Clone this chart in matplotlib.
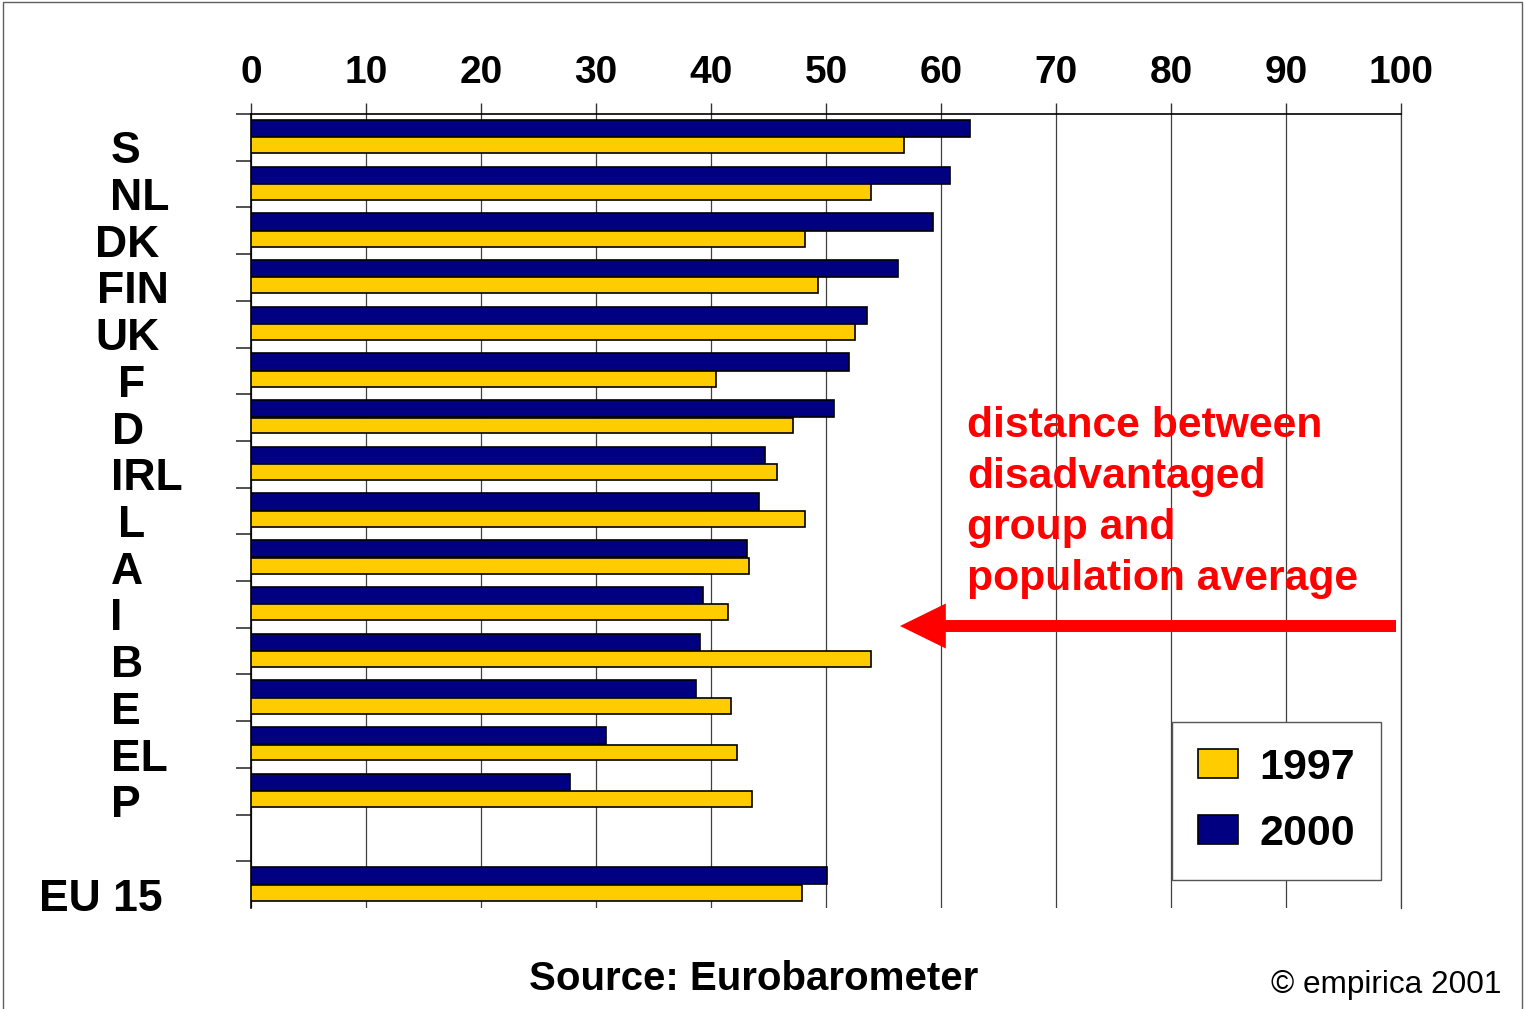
import numpy as np
import matplotlib
matplotlib.use("Agg")
import matplotlib.pyplot as plt
from matplotlib.patches import Rectangle
import matplotlib.transforms as mtransforms

plt.rcParams['font.family'] = ['Liberation Sans', 'DejaVu Sans']

# share of the disadvantaged group vs. population average, per country
countries = ["S", "NL", "DK", "FIN", "UK", "F", "D", "IRL", "L", "A",
             "I", "B", "E", "EL", "P", "EU 15"]
val_2000 = [62.5, 60.8, 59.3, 56.3, 53.6, 52.0, 50.7, 44.7, 44.2, 43.1,
            39.3, 39.0, 38.7, 30.9, 27.7, 50.1]
val_1997 = [56.8, 53.9, 48.2, 49.3, 52.5, 40.4, 47.1, 45.7, 48.2, 43.3,
            41.5, 53.9, 41.7, 42.3, 43.6, 47.9]
x_ticks = list(range(0, 101, 10))
series_names = ["1997", "2000"]

note_lines = ["distance between", "disadvantaged", "group and",
              "population average"]
source_text = "Source: Eurobarometer"
copyright_text = "\u00a9 empirica 2001"

NAVY = "#000080"
YELLOW = "#FFCC00"
RED = "#FF0000"

W, H = 1524, 1009
fig = plt.figure(figsize=(W / 100, H / 100), dpi=100)

# axes box in pixel terms (0..100 spans the bar area)
left, right, top, bottom = 251, 1401, 114, 908
ax = fig.add_axes([left / W, 1 - bottom / H, (right - left) / W, (bottom - top) / H])

# one empty slot before the EU average
pos = np.arange(len(countries), dtype=float)
pos[-1] += 1

b00 = ax.barh(pos - 0.19, val_2000, height=0.37, color=NAVY,
              edgecolor="black", linewidth=1.2, zorder=3)
b97 = ax.barh(pos + 0.17, val_1997, height=0.34, color=YELLOW,
              edgecolor="black", linewidth=1.2, zorder=3)

ax.set_xlim(0, 100)
ax.set_ylim(16.5, -0.5)

ax.xaxis.tick_top()
ax.set_xticks(x_ticks)
ax.set_xticklabels([str(t) for t in x_ticks], fontsize=28, fontweight="bold")
ax.tick_params(axis="x", direction="out", length=8, width=1, color="#333333", pad=8.5)

ax.set_yticks(np.arange(-0.5, 16, 1))
ax.set_yticklabels([])
ax.tick_params(axis="y", direction="out", length=11, width=1.2, color="#333333")

ax.grid(axis="x", color="#404040", linewidth=0.9, zorder=0)
ax.set_axisbelow(True)

ax.spines["bottom"].set_visible(False)
ax.spines["top"].set_linewidth(1.2)
ax.spines["left"].set_linewidth(1.2)
ax.spines["right"].set_color("#404040")
ax.spines["right"].set_linewidth(0.9)

# country labels sit a bit below their bar pair, with uneven indents
label_x = {"S": 111, "NL": 110, "DK": 95, "FIN": 97, "UK": 95, "F": 118,
           "D": 112, "IRL": 111, "L": 118, "A": 111, "I": 110, "B": 111,
           "E": 111, "EL": 111, "P": 111}
below = mtransforms.ScaledTranslation(0, -0.26, fig.dpi_scale_trans)
for name, y in zip(countries, pos):
    if name == "EU 15":
        x, ha = 163 / W, "right"
    else:
        x, ha = label_x[name] / W, "left"
    trans = mtransforms.blended_transform_factory(fig.transFigure, ax.transData) + below
    fig.text(x, y, name, transform=trans, ha=ha, va="baseline",
             fontsize=32, fontweight="bold")

# legend
leg = ax.legend([b97, b00], series_names, loc="upper left",
                bbox_to_anchor=(1172 / W, 1 - 722 / H),
                bbox_transform=fig.transFigure, borderaxespad=0,
                prop={"size": 31, "weight": "bold"}, frameon=True,
                fancybox=False, framealpha=1, edgecolor="#555555",
                handlelength=0.93, handleheight=0.65, handletextpad=0.5,
                labelspacing=0.6, borderpad=0.6)
leg.get_frame().set_linewidth(1)

# red note with arrow pointing at the bars
for i, line in enumerate(note_lines):
    fig.text(967 / W, 1 - (437 + 51 * i) / H, line, color=RED,
             fontsize=30.7, fontweight="bold", ha="left", va="baseline")

ax.annotate("", xy=(900, H - 626), xycoords="figure pixels",
            xytext=(1396, H - 626), textcoords="figure pixels",
            arrowprops=dict(arrowstyle="simple,head_length=3.3,head_width=3.24,tail_width=0.86",
                            mutation_scale=10, facecolor=RED, edgecolor="none",
                            shrinkA=0, shrinkB=0))

fig.text(754 / W, 1 - 990 / H, source_text, fontsize=29, fontweight="bold",
         ha="center", va="baseline")
fig.text(1501 / W, 1 - 993 / H, copyright_text, fontsize=22.7,
         ha="right", va="baseline")

# outer frame
fig.patches.append(Rectangle((3 / W, -0.01), 1519 / W, 1.0085, transform=fig.transFigure,
                             fill=False, edgecolor="#606060", linewidth=1))

fig.savefig("out.png", dpi=100)
